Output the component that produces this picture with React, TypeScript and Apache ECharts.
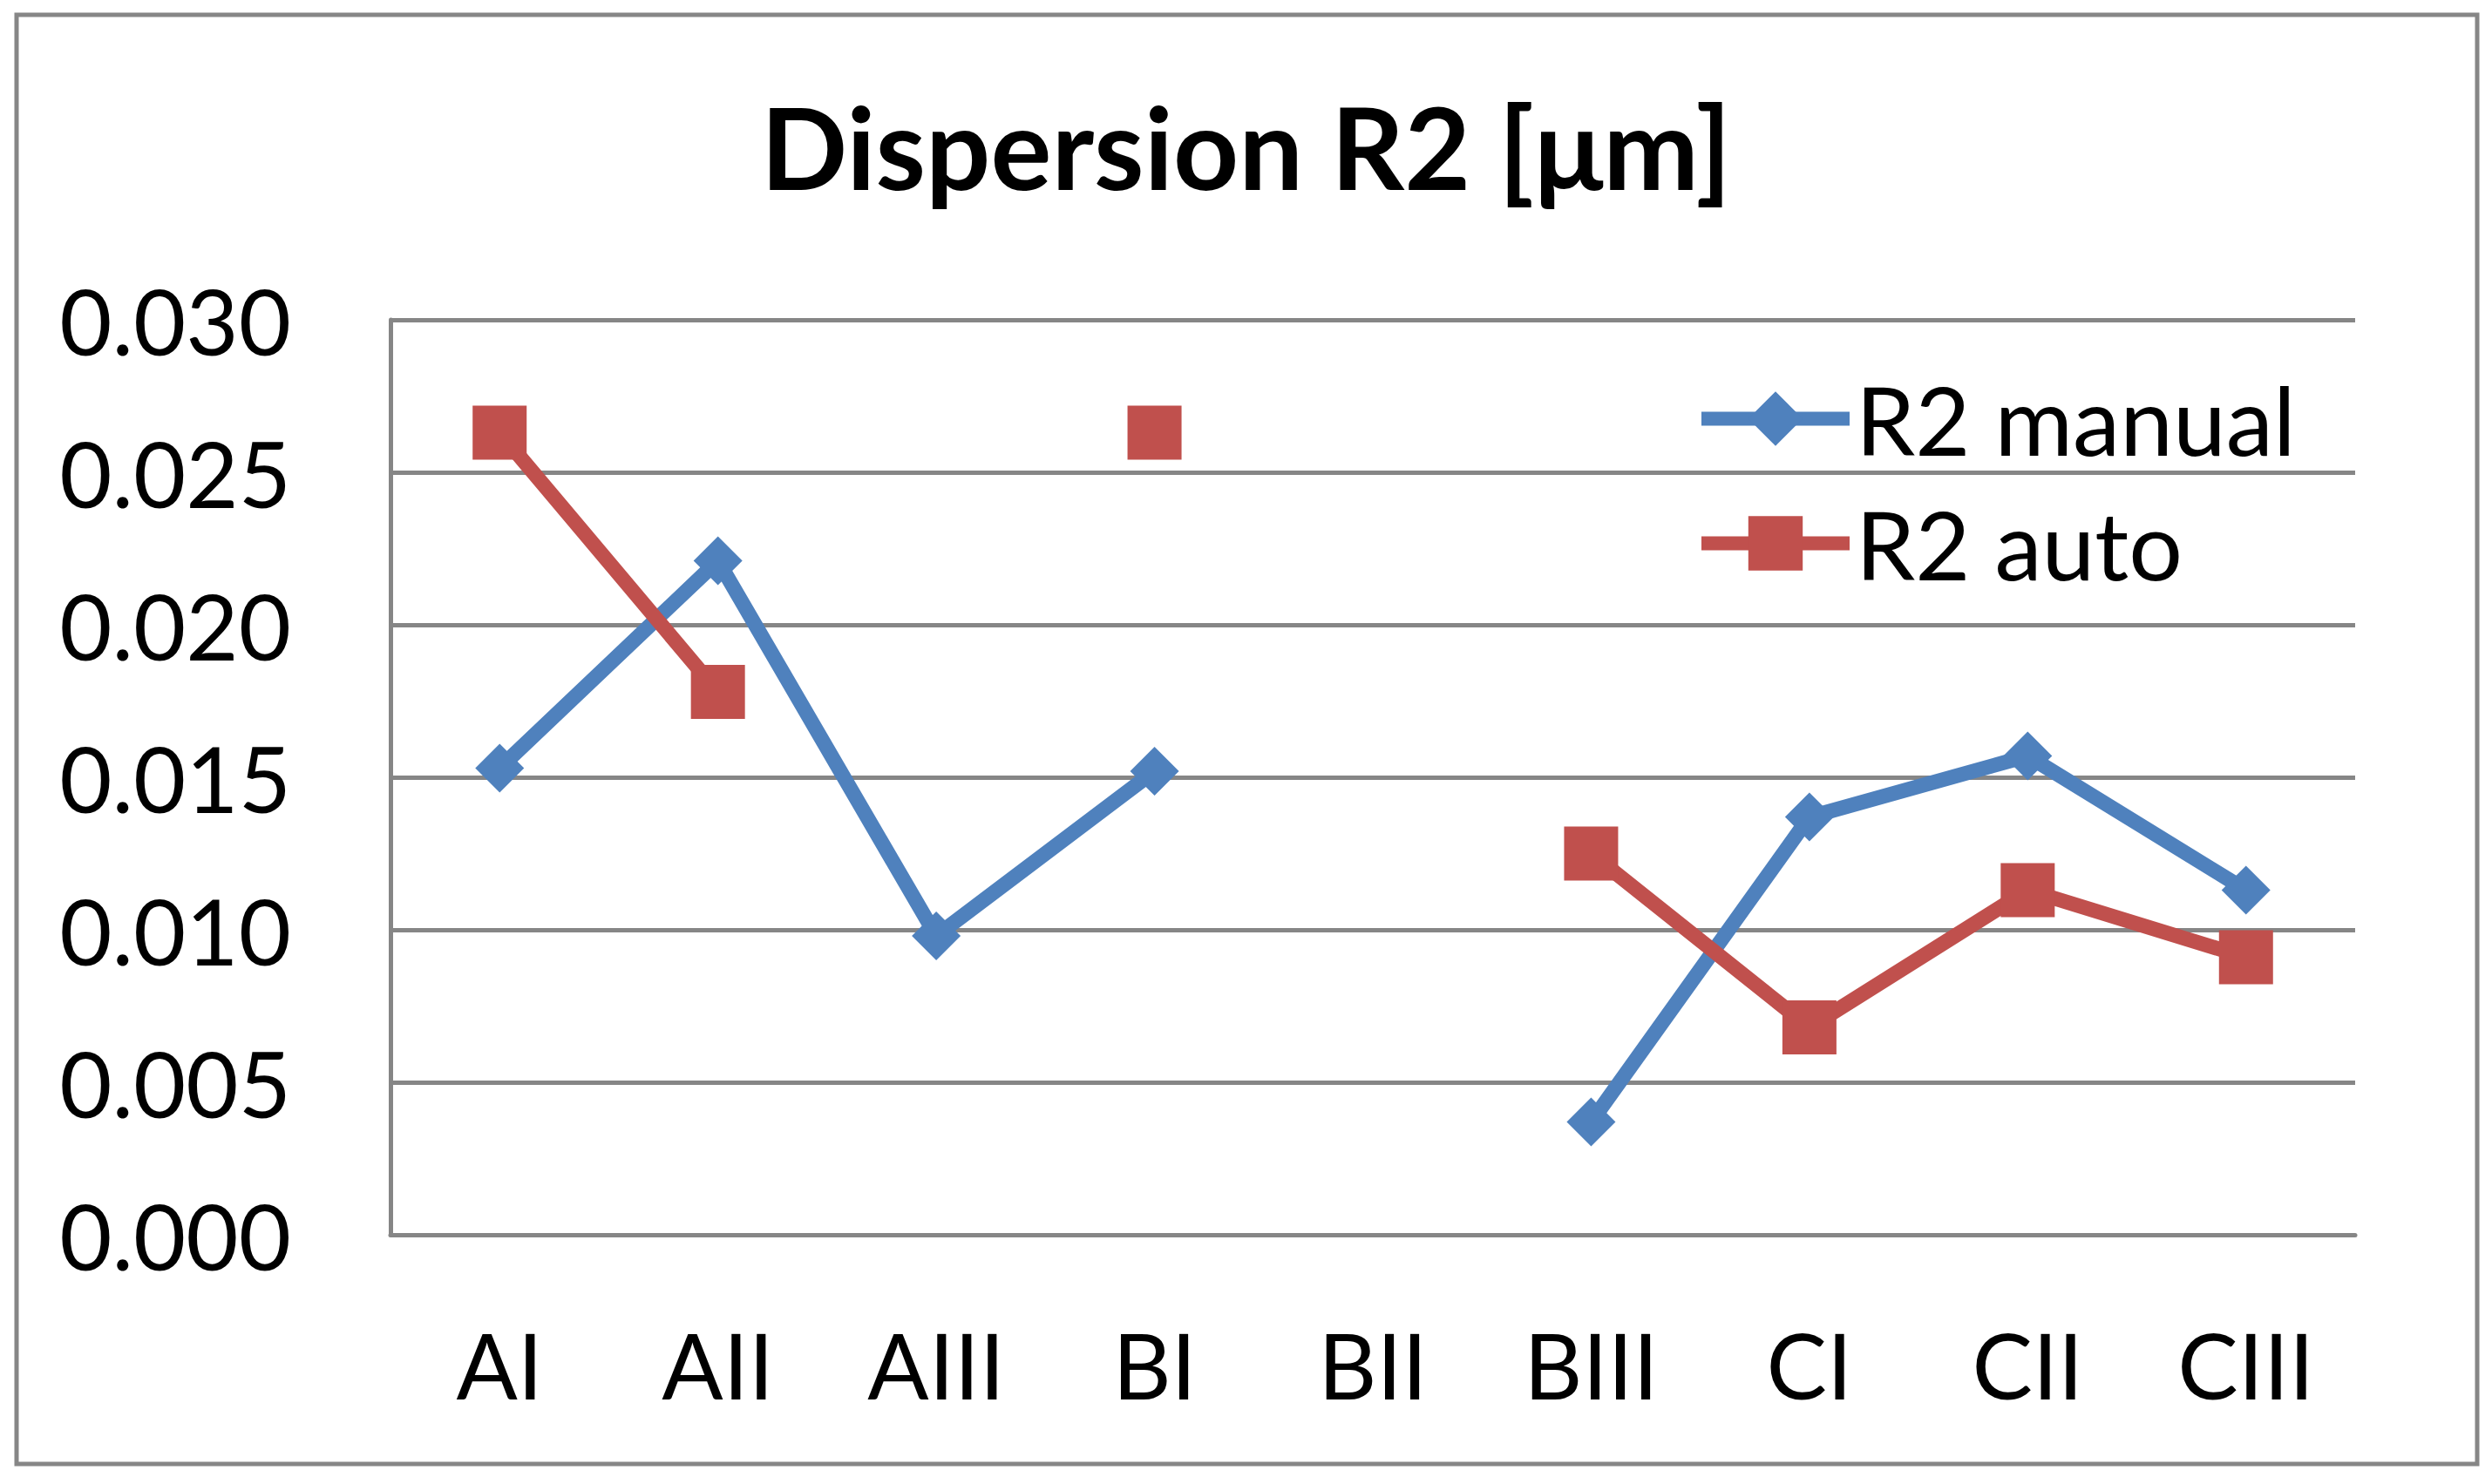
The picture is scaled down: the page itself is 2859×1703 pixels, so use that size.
import React, { useEffect, useRef } from "react";
import * as echarts from "echarts";

const categories = ["AI", "AII", "AIII", "BI", "BII", "BIII", "CI", "CII", "CIII"];
const r2Manual: (number | null)[] = [0.0153, 0.0221, 0.0098, 0.0152, null, 0.0037, 0.0137, 0.0157, 0.0113];
const r2Auto: (number | null)[] = [0.0263, 0.0178, null, 0.0263, null, 0.0125, 0.0068, 0.0113, 0.0091];
const yTicks = [0, 0.005, 0.01, 0.015, 0.02, 0.025, 0.03];

const FONT = "Lato";
const GREY = "#868686";
const BLUE = "#4F81BD";
const RED = "#C0504D";

export default function App() {
  const ref = useRef<HTMLDivElement>(null);
  useEffect(() => {
    if (!ref.current) return;
    const chart = echarts.init(ref.current, null, { renderer: "svg" });
    chart.setOption({
      animation: false,
      backgroundColor: "#ffffff",
      title: {
        text: "Dispersion R2 [μm]",
        left: "center",
        top: 102,
        padding: 0,
        textStyle: { fontFamily: FONT, fontWeight: "bold", fontSize: 131, color: "#000" },
      },
      legend: {
        orient: "vertical",
        left: 1944,
        top: 426,
        padding: 0,
        itemWidth: 170,
        itemHeight: 78,
        itemGap: 34,
        lineStyle: { width: 16 },
        textStyle: { fontFamily: FONT, fontSize: 109, color: "#000", padding: [0, 0, 0, 2] },
        data: ["R2 manual", "R2 auto"],
      },
      grid: { left: 448, right: 157, top: 367, bottom: 286, containLabel: false },
      xAxis: {
        type: "category",
        data: categories,
        boundaryGap: true,
        axisLine: { show: true, lineStyle: { color: GREY, width: 5 } },
        axisTick: { show: false },
        axisLabel: { fontFamily: FONT, fontSize: 104, color: "#000", margin: 96, interval: 0 },
        splitLine: { show: false },
      },
      yAxis: {
        type: "value",
        min: yTicks[0],
        max: yTicks[yTicks.length - 1],
        interval: yTicks[1] - yTicks[0],
        axisLine: { show: true, lineStyle: { color: GREY, width: 5 } },
        axisTick: { show: false },
        axisLabel: {
          fontFamily: FONT,
          fontSize: 104,
          color: "#000",
          margin: 114,
          padding: [0, 0, 20, 0],
          formatter: (v: number) => v.toFixed(3),
        },
        splitLine: { show: true, lineStyle: { color: GREY, width: 5 } },
      },
      graphic: [
        {
          type: "rect",
          shape: { x: 19, y: 17, width: 2823, height: 1663 },
          style: { fill: "none", stroke: GREY, lineWidth: 5 },
          silent: true,
          z: 100,
        },
      ],
      series: [
        {
          name: "R2 manual",
          type: "line",
          data: r2Manual,
          connectNulls: false,
          symbol: "diamond",
          symbolSize: 56,
          showAllSymbol: true,
          lineStyle: { color: BLUE, width: 17 },
          itemStyle: { color: BLUE },
        },
        {
          name: "R2 auto",
          type: "line",
          data: r2Auto,
          connectNulls: false,
          symbol: "rect",
          symbolSize: 62,
          showAllSymbol: true,
          lineStyle: { color: RED, width: 17 },
          itemStyle: { color: RED },
        },
      ],
    });
    return () => chart.dispose();
  }, []);
  return (
    <div
      ref={ref}
      style={{ position: "fixed", left: 0, top: 0, width: 2859, height: 1703, background: "#fff" }}
    />
  );
}
